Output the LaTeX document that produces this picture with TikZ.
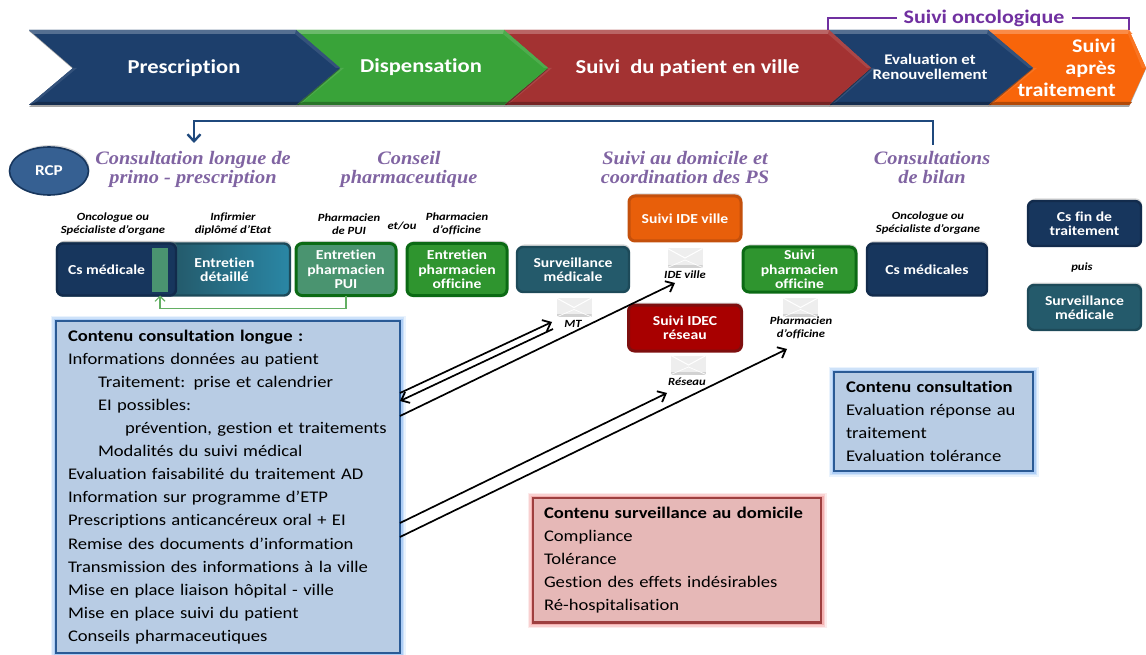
\documentclass[tikz,border=0pt]{standalone}
\usepackage{fontspec}
\setmainfont[FakeStretch=1.145,Ligatures=NoCommon]{Carlito}
\newfontfamily\titlefont[FakeStretch=1.07]{Liberation Serif}
\usetikzlibrary{shadows,arrows.meta,shapes.geometric}
\definecolor{navyA}{HTML}{1D3F6C}
\definecolor{navyB}{HTML}{17365D}
\definecolor{navyE}{HTML}{122B4C}
\definecolor{greenA}{HTML}{39A339}
\definecolor{redA}{HTML}{A33232}
\definecolor{orangeA}{HTML}{F8650A}
\definecolor{tealA}{HTML}{245A6B}
\definecolor{tealE}{HTML}{1D4A59}
\definecolor{tealL}{HTML}{2A87A5}
\definecolor{pgreen}{HTML}{4A9470}
\definecolor{dgreen}{HTML}{0B6A14}
\definecolor{ogreen}{HTML}{2F952F}
\definecolor{purpleT}{HTML}{8064A2}
\definecolor{purpleB}{HTML}{7030A0}
\definecolor{arrowB}{HTML}{1F497D}
\definecolor{blueBox}{HTML}{B8CCE4}
\definecolor{blueEdge}{HTML}{2A5A95}
\definecolor{blueGlow}{HTML}{8DBBF2}
\definecolor{pinkBox}{HTML}{E6B8B7}
\definecolor{pinkEdge}{HTML}{9E3F3F}
\definecolor{pinkGlow}{HTML}{F09090}
\definecolor{rcpBlue}{HTML}{366092}
\definecolor{oranB}{HTML}{E85F0A}
\definecolor{oranE}{HTML}{C4500C}
\definecolor{redB}{HTML}{A80000}
\definecolor{redE}{HTML}{7E0F0F}
\tikzset{
  x=1pt,y=-1pt,
  chevtext/.style={text=white,font=\bfseries\fontsize{#1}{#1}\selectfont,inner sep=0,align=center},
  box/.style={rectangle,rounded corners=6,inner sep=0,outer sep=0,align=center,text=white,line width=2.4,
    font=\bfseries\fontsize{13.7}{14.3}\selectfont,
    drop shadow={shadow xshift=1,shadow yshift=-2.5,opacity=.3}},
  navybox/.style={box,fill=navyB,draw=navyE},
  tealbox/.style={box,fill=tealA,draw=tealE},
  greenbox/.style={box,fill=ogreen,draw=dgreen,line width=3},
  pharmbox/.style={box,fill=pgreen,draw=dgreen,line width=3},
  small/.style={inner sep=0,align=center,font=\bfseries\itshape\fontsize{11}{12.7}\selectfont},
  title/.style={inner sep=0,align=center,text=purpleT,font=\titlefont\bfseries\itshape\fontsize{19}{19.2}\selectfont},
  glowbox/.style={rectangle,inner sep=0,outer sep=0,inner xsep=12,align=left,line width=2.2,anchor=north west,
    font=\fontsize{16.25}{23.05}\selectfont,fill=#1Box,draw=#1Edge,
    preaction={draw=#1Glow,line width=11,opacity=.18},
    preaction={draw=#1Glow,line width=8,opacity=.3},
    preaction={draw=#1Glow,line width=5,opacity=.5}},
  envelope/.style={rectangle,inner sep=0,outer sep=0,fill=gray!13,minimum width=35,minimum height=19,
    path picture={
      \fill[gray!35] ([yshift=3]path picture bounding box.south west) rectangle (path picture bounding box.south east);
      \draw[white,line width=1] (path picture bounding box.north west) -- (path picture bounding box.center) -- (path picture bounding box.north east);
      \draw[white,line width=.7] (path picture bounding box.south west) -- ([yshift=-2]path picture bounding box.center) -- (path picture bounding box.south east);
    }},
  link/.style={draw=black,line width=1.7,-{Straight Barb[length=7,width=12,line width=1.8]}},
}
\newcommand{\chev}[5]{%
  \fill[black,opacity=.35] (#2,107) -- (#4,107) -- (#5,69) -- (#4,31) -- (#2,31) -- (#3,69) -- cycle;
  \fill[#1] (#2,30) -- (#4,30) -- (#5,68) -- (#4,105) -- (#2,105) -- (#3,68) -- cycle;
  \fill[#1!75!white] (#2,30) -- (#4,30) -- (#4+3.5,34) -- (#2+4.5,34) -- cycle;
  \fill[#1!90!white] (#4,30) -- (#5,68) -- (#5-4,68) -- (#4-1,34) -- cycle;
  \fill[#1!72!black] (#2,105) -- (#4,105) -- (#4+3,102) -- (#2+3.5,102) -- cycle;
  \fill[#1!90!white] (#2,105) -- (#3,68) -- (#3+4,68) -- (#2+7,102) -- cycle;
}
\begin{document}
\begin{tikzpicture}
\useasboundingbox (0,0) rectangle (1146,655);
% chevrons
\chev{orangeA}{988}{1033}{1129}{1146}
\chev{navyA}{829}{871}{988}{1033}
\chev{redA}{504}{548}{829}{871}
\chev{greenA}{296}{340}{504}{548}
\chev{navyA}{29}{73}{296}{340}
\node[chevtext=19.7] (c1) at (184,68) {Prescription};
\node[chevtext=19.7] (c2) at (421,67) {Dispensation};
\node[chevtext=19.7] (c3) at (687.5,68) {Suivi~ du patient en ville};
\node[chevtext=14.7,font=\bfseries\fontsize{14.7}{15}\selectfont] (c4) at (930,67) {Evaluation et\\Renouvellement};
\node[chevtext=19,font=\bfseries\fontsize{19.3}{22.3}\selectfont,align=right,anchor=east] (c5) at (1116,68) {Suivi\\après\\traitement};
% suivi oncologique
\node[inner sep=0,text=purpleB,font=\bfseries\fontsize{19.2}{17}\selectfont] (onco) at (984,18) {Suivi oncologique};
\coordinate (br1) at (828,30);
\coordinate (br2) at (1129,30);
\draw[purpleB,line width=1.4] (br1) |- ([xshift=-7]onco.west);
\draw[purpleB,line width=1.4] (br2) |- ([xshift=7]onco.east);
% titles
\node[title] (t1) at (193,169.5) {Consultation longue de\\primo - prescription};
\node[title] (t2) at (409,169.5) {Conseil\\pharmaceutique};
\node[title] (t3) at (685,167.5) {Suivi au domicile et\\coordination des PS};
\node[title] (t4) at (932,167.5) {Consultations\\de bilan};
% return arrow
\coordinate (ra) at (933,145);
\coordinate (rb) at (194,143);
\draw[arrowB,line width=2.4,-{Straight Barb[length=7,width=13,line width=2.4]}] (ra) |- (rb |- 0,121) -- (rb);
% RCP
\node[ellipse,draw=navyB,fill=rcpBlue,line width=1.6,inner sep=0,outer sep=0,minimum width=79,minimum height=48,text=white,
  font=\bfseries\fontsize{15}{15}\selectfont,drop shadow={shadow xshift=1,shadow yshift=-2,opacity=.3}] (rcp) at (49,171) {RCP};
% small labels
\node[small] (s1) at (113,224) {Oncologue ou\\Spécialiste d’organe};
\node[small] (s2) at (233,224) {Infirmier\\diplômé d’Etat};
\node[small] (s3) at (349,224) {Pharmacien\\de PUI};
\node[small] (s4) at (402,226) {et/ou};
\node[small] (s5) at (457,224) {Pharmacien\\d’officine};
\node[small] (s6) at (928,223) {Oncologue ou\\Spécialiste d’organe};
\node[small] (s7) at (1082,268) {puis};
% boxes
\node[box,minimum width=233,minimum height=52,left color=navyB,right color=tealL,middle color=tealA,draw=tealE,anchor=west] (ent) at (57,269.5) {\hspace{102pt}Entretien\\\hspace{102pt}détaillé};
\node[navybox,minimum width=119,minimum height=52,anchor=west,drop shadow={opacity=0}] (cs) at (57,269.5) {Cs médicale\hspace{20pt}};
\node[rectangle,fill=pgreen,inner sep=0,outer sep=0,minimum width=16,minimum height=44] (tab) at (160,270) {};
\node[pharmbox,minimum width=100,minimum height=52] (pui) at (346,269.5) {Entretien\\pharmacien\\PUI};
\node[greenbox,minimum width=100,minimum height=52] (off) at (457,269.5) {Entretien\\pharmacien\\officine};
\node[tealbox,minimum width=112,minimum height=45] (surv) at (573,269.5) {Surveillance\\médicale};
\node[box,fill=oranB,draw=oranE,line width=3,minimum width=112,minimum height=45] (ide) at (685,218.5) {Suivi IDE ville};
\node[greenbox,minimum width=113,minimum height=45] (pharm) at (799.5,269.5) {Suivi\\pharmacien\\officine};
\node[navybox,minimum width=120,minimum height=52] (csm) at (927,269.5) {Cs médicales};
\node[navybox,minimum width=113,minimum height=45] (fin) at (1084.5,223.5) {Cs fin de\\traitement};
\node[tealbox,minimum width=113,minimum height=45] (surv2) at (1084.5,307.5) {Surveillance\\médicale};
\node[box,fill=redB,draw=redE,line width=3,minimum width=113,minimum height=46] (idec) at (685,328) {Suivi IDEC\\réseau};
% feedback arrow
\draw[ogreen!75!white,line width=1.1,-{Straight Barb[length=5,width=10,line width=1.1]}] (pui.south) -- ++(0,13) -| (tab.south |- cs.south);
% envelopes
\node[envelope] (e1) at (574,307.5) {};
\node[envelope] (e2) at (685,258) {};
\node[envelope] (e3) at (688.5,365) {};
\node[envelope] (e4) at (800.5,307.5) {};
\node[small] (l1) at (573,323.5) {MT};
\node[small] (l2) at (685,275) {IDE ville};
\node[small] (l3) at (687,382) {Réseau};
\node[small] (l4) at (801,327.5) {Pharmacien\\d’officine};
% content boxes
\node[glowbox=blue,text width=320,minimum height=332] (cb1) at (56,321) {%
\textbf{Contenu consultation longue :}\\
Informations données au patient\\
\hspace*{30pt}Traitement: prise et calendrier\\
\hspace*{30pt}EI possibles:\\
\hspace*{57pt}prévention, gestion et traitements\\
\hspace*{30pt}Modalités du suivi médical\\
Evaluation faisabilité du traitement AD\\
Information sur programme d’ETP\\
Prescriptions anticancéreux oral + EI\\
Remise des documents d’information\\
Transmission des informations à la ville\\
Mise en place liaison hôpital - ville\\
Mise en place suivi du patient\\
Conseils pharmaceutiques};
\node[glowbox=pink,inner xsep=11,text width=266,minimum height=124.5] (cb2) at (533,498) {%
\textbf{Contenu surveillance au domicile}\\
Compliance\\
Tolérance\\
Gestion des effets indésirables\\
Ré-hospitalisation};
\node[glowbox=blue,text width=175,minimum height=99] (cb3) at (834,372) {%
\textbf{Contenu consultation}\\
Evaluation réponse au\\
traitement\\
Evaluation tolérance};
% links
\coordinate (a1) at (552,322); \coordinate (a2) at (553,329);
\coordinate (a3) at (675,283); \coordinate (a4) at (667,393); \coordinate (a5) at (787,349);
\draw[link] (cb1.east |- 0,393) -- (a1);
\draw[link] (a2) -- (cb1.east |- 0,401);
\draw[link] (cb1.east |- 0,416) -- (a3);
\draw[link] (cb1.east |- 0,523) -- (a4);
\draw[link] (cb1.east |- 0,537) -- (a5);
\end{tikzpicture}
\end{document}
